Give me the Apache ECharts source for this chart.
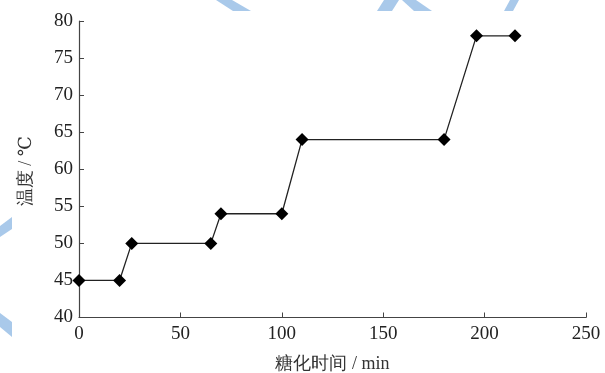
<!DOCTYPE html>
<html><head><meta charset="utf-8">
<script src="https://cdn.jsdelivr.net/npm/echarts@6/dist/echarts.min.js"></script>
<style>html,body{margin:0;padding:0;background:#fff}#c{width:605px;height:373px}</style>
</head><body><div id="c"></div>
<script>
const times = [0, 20, 26, 65, 70, 100, 110, 180, 196, 215];
const temps = [45, 45, 50, 50, 54, 54, 64, 64, 78, 78];
const xTicks = [0, 50, 100, 150, 200, 250];
const yTicks = [40, 45, 50, 55, 60, 65, 70, 75, 80];
const xName = '糖化时间 / min';
const yName = '温度 / ℃';

const chart = echarts.init(document.getElementById('c'), null, {renderer: 'canvas'});
const font = '"Liberation Serif","DejaVu Serif",serif';
const wm = '#a9c9ea';
chart.setOption({
  animation: false,
  backgroundColor: '#fff',
  grid: {left: 79, right: 19, top: 21, bottom: 55.5, containLabel: false, outerBoundsMode: 'none'},
  xAxis: {
    type: 'value', min: xTicks[0], max: xTicks[xTicks.length-1], interval: 50,
    name: xName, nameLocation: 'middle', nameGap: 38,
    nameTextStyle: {fontFamily: font, fontSize: 18, color: '#333'},
    axisLine: {lineStyle: {color: '#444', width: 1.2}},
    axisTick: {inside: true, length: 5, lineStyle: {color: '#444'}},
    axisLabel: {fontFamily: font, fontSize: 19, color: '#222', margin: 7},
    splitLine: {show: false}
  },
  yAxis: {
    type: 'value', min: yTicks[0], max: yTicks[yTicks.length-1], interval: 5,
    name: yName, nameLocation: 'middle', nameGap: 44,
    nameTextStyle: {fontFamily: font, fontSize: 18, color: '#333', padding: [0, 4, 0, 0]},
    axisLine: {show: true, lineStyle: {color: '#444', width: 1.2}},
    axisTick: {show: true, inside: true, length: 5, lineStyle: {color: '#444'}},
    axisLabel: {fontFamily: font, fontSize: 19, color: '#222', margin: 6},
    splitLine: {show: false}
  },
  series: [{
    type: 'line',
    data: times.map((t, i) => [t, temps[i]]),
    symbol: 'diamond', symbolSize: 13,
    itemStyle: {color: '#000'},
    lineStyle: {color: '#222', width: 1.3}
  }],
  graphic: [
    {type: 'polygon', shape: {points: [[216,0],[232,0],[251,11],[233,11]]}, style: {fill: wm}},
    {type: 'polygon', shape: {points: [[384,0],[399,0],[392,11],[377,11]]}, style: {fill: wm}},
    {type: 'polygon', shape: {points: [[402,0],[416,0],[432,11],[414,11]]}, style: {fill: wm}},
    {type: 'polygon', shape: {points: [[510,0],[519,0],[513,11],[504,11]]}, style: {fill: wm}},
    {type: 'polygon', shape: {points: [[12,217],[12,229],[0,237],[0,226]]}, style: {fill: wm}},
    {type: 'polygon', shape: {points: [[0,313],[12,322],[12,337],[0,327]]}, style: {fill: wm}}
  ]
});
</script></body></html>
